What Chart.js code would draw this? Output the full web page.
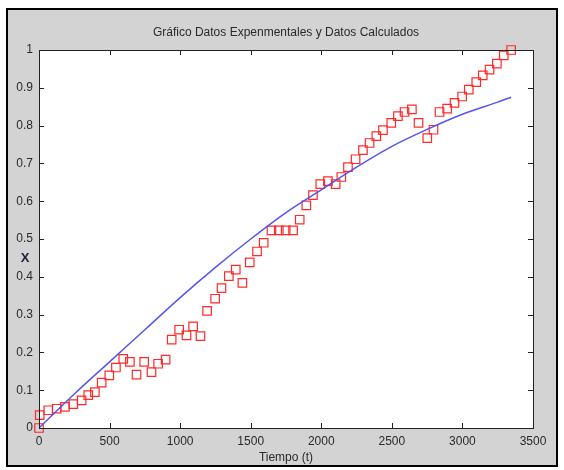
<!DOCTYPE html>
<html>
<head>
<meta charset="utf-8">
<script src="https://cdn.jsdelivr.net/npm/chart.js@4.4.0/dist/chart.umd.min.js"></script>
<style>
  html, body { margin: 0; padding: 0; background: #fff; }
  #wrap { width: 564px; height: 470px; position: relative; }
</style>
</head>
<body>
<div id="wrap"><canvas id="chart" width="564" height="470"></canvas></div>
<script>
// Experimental points (red squares)
const timeExp = [0, 5, 66, 125, 184, 243, 302, 349, 396, 444, 498, 545, 597, 644, 691, 745, 797, 844, 897,
  940, 993, 1045, 1092, 1144, 1191, 1248, 1293, 1345, 1394, 1441, 1493, 1545, 1592, 1647, 1699, 1748, 1800,
  1847, 1894, 1941, 1993, 2047, 2102, 2142, 2189, 2243, 2295, 2342, 2390, 2437, 2496, 2543, 2590, 2642,
  2689, 2751, 2795, 2838, 2892, 2944, 2998, 3045, 3098, 3144, 3192, 3244, 3293, 3345];
const xExp = [0, 0.034, 0.047, 0.051, 0.056, 0.063, 0.073, 0.087, 0.095, 0.12, 0.139, 0.16, 0.183, 0.175, 0.141,
  0.175, 0.148, 0.17, 0.181, 0.234, 0.26, 0.245, 0.269, 0.243, 0.31, 0.342, 0.37, 0.402, 0.419, 0.384, 0.438,
  0.467, 0.49, 0.523, 0.523, 0.523, 0.523, 0.551, 0.589, 0.616, 0.645, 0.653, 0.645, 0.664, 0.69, 0.711,
  0.735, 0.754, 0.772, 0.788, 0.807, 0.825, 0.836, 0.843, 0.807, 0.767, 0.789, 0.836, 0.845, 0.86, 0.877,
  0.895, 0.915, 0.933, 0.948, 0.964, 0.986, 1.0];

// Calculated curve (blue line)
const timeCalc = [0, 250, 500, 750, 1000, 1250, 1500, 1750, 2000, 2250, 2500, 2750, 3000, 3250, 3345];
const xCalc = [0, 0.09, 0.175, 0.26, 0.345, 0.425, 0.5, 0.57, 0.63, 0.69, 0.745, 0.79, 0.83, 0.862, 0.875];

const xTicks = [0, 500, 1000, 1500, 2000, 2500, 3000, 3500];
const yTicks = [0, 0.1, 0.2, 0.3, 0.4, 0.5, 0.6, 0.7, 0.8, 0.9, 1];

const titleText = 'Gráfico Datos Expenmentales y Datos Calculados';
const xLabel = 'Tiempo (t)';
const yLabel = 'X';

const font = '"Liberation Sans", Arial, sans-serif';

// Figure background, axes box, inward ticks and labels (MATLAB look)
const matlabFrame = {
  id: 'matlabFrame',
  beforeDraw(chart) {
    const ctx = chart.ctx;
    ctx.save();
    ctx.fillStyle = '#fff';
    ctx.fillRect(0, 0, chart.width, chart.height);
    ctx.fillStyle = '#d3d3d3';
    ctx.fillRect(7, 9, 550, 457);
    ctx.strokeStyle = '#000';
    ctx.lineWidth = 2;
    ctx.strokeRect(7, 9, 550, 457);
    const a = chart.chartArea;
    ctx.fillStyle = '#fff';
    ctx.fillRect(a.left, a.top, a.right - a.left, a.bottom - a.top);
    ctx.restore();
  },
  afterDraw(chart) {
    const ctx = chart.ctx;
    const a = chart.chartArea;
    const xs = chart.scales.x, ys = chart.scales.y;
    ctx.save();
    ctx.strokeStyle = '#222';
    ctx.lineWidth = 1;
    ctx.strokeRect(a.left + 0.5, a.top + 0.5, a.right - a.left, a.bottom - a.top);
    ctx.beginPath();
    xTicks.forEach(v => {
      const p = Math.round(xs.getPixelForValue(v)) + 0.5;
      ctx.moveTo(p, a.bottom); ctx.lineTo(p, a.bottom - 5);
      ctx.moveTo(p, a.top); ctx.lineTo(p, a.top + 5);
    });
    yTicks.forEach(v => {
      const p = Math.round(ys.getPixelForValue(v)) + 0.5;
      ctx.moveTo(a.left, p); ctx.lineTo(a.left + 5, p);
      ctx.moveTo(a.right, p); ctx.lineTo(a.right - 5, p);
    });
    ctx.stroke();

    ctx.fillStyle = '#2a2a2a';
    ctx.textAlign = 'center';
    ctx.textBaseline = 'middle';
    ctx.font = '12px ' + font;
    ctx.fillText(titleText, (a.left + a.right) / 2, 33);
    ctx.fillText(xLabel, (a.left + a.right) / 2, 458);
    ctx.font = 'bold 13px ' + font;
    ctx.fillStyle = '#202040';
    ctx.fillText(yLabel, 25, 258);
    ctx.restore();
  }
};

new Chart(document.getElementById('chart'), {
  type: 'scatter',
  data: {
    datasets: [
      {
        type: 'line',
        label: 'Calculados',
        data: timeCalc.map((t, i) => ({ x: t, y: xCalc[i] })),
        borderColor: '#5555ee',
        borderWidth: 1.5,
        pointRadius: 0,
        tension: 0.3,
        fill: false
      },
      {
        label: 'Experimentales',
        data: timeExp.map((t, i) => ({ x: t, y: xExp[i] })),
        pointStyle: 'rect',
        pointRadius: 6,
        borderColor: '#ff2a2a',
        backgroundColor: 'rgba(0,0,0,0)',
        borderWidth: 1.2,
        clip: false
      }
    ]
  },
  options: {
    responsive: false,
    animation: false,
    layout: { padding: { top: 50, right: 31, left: 0, bottom: 0 } },
    plugins: {
      legend: { display: false },
      tooltip: { enabled: false }
    },
    scales: {
      x: {
        type: 'linear',
        min: 0,
        max: 3500,
        afterBuildTicks: s => { s.ticks = xTicks.map(v => ({ value: v })); },
        afterFit: s => { s.height = 42; },
        grid: { display: false, drawTicks: false },
        border: { display: false },
        ticks: {
          color: '#2a2a2a',
          padding: 6,
          font: { family: font, size: 12 },
          maxRotation: 0,
          callback: v => String(v)
        }
      },
      y: {
        type: 'linear',
        min: 0,
        max: 1,
        afterBuildTicks: s => { s.ticks = yTicks.map(v => ({ value: v })); },
        afterFit: s => { s.width = 39; },
        grid: { display: false, drawTicks: false },
        border: { display: false },
        ticks: {
          color: '#2a2a2a',
          padding: 6,
          font: { family: font, size: 12 },
          callback: v => String(Number(v.toFixed(1)))
        }
      }
    }
  },
  plugins: [matlabFrame]
});
</script>
</body>
</html>
